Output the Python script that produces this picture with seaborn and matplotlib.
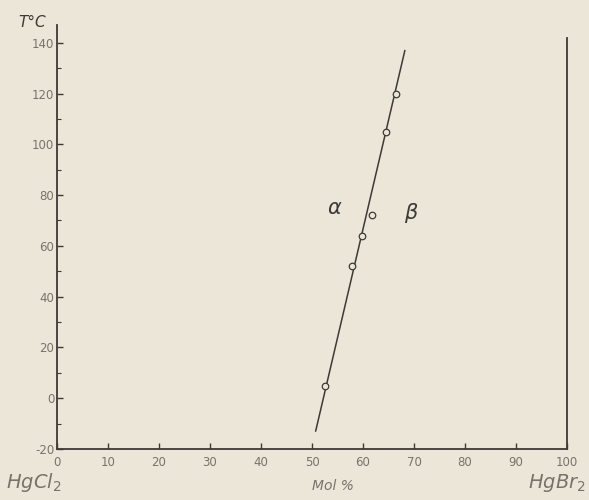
import matplotlib
matplotlib.use("Agg")
import matplotlib.pyplot as plt
import seaborn as sns
import pandas as pd

# measured points (mol % HgBr2, temperature C)
mol_pct = [52.5, 57.8, 59.8, 61.8, 64.5, 66.5]
temp_c = [5, 52, 64, 72, 105, 120]

# boundary line between alpha and beta
line_x = [50.7, 68.2]
line_y = [-13, 137]

x_ticks = [0, 10, 20, 30, 40, 50, 60, 70, 80, 90, 100]
y_ticks = [-20, 0, 20, 40, 60, 80, 100, 120, 140]

bg = "#ebe6d7"
ink = "#3c3a36"
grey = "#77736c"

sns.set_style("ticks")
plt.rcParams["font.family"] = ["DejaVu Sans"]
plt.rcParams["axes.unicode_minus"] = False

fig = plt.figure(figsize=(5.89, 5.0), dpi=100, facecolor=bg)
ax = fig.add_axes([0.0968, 0.102, 0.866, 0.848], facecolor=bg)

pts = pd.DataFrame({"mol": mol_pct, "T": temp_c})
bound = pd.DataFrame({"mol": line_x, "T": line_y})

sns.lineplot(data=bound, x="mol", y="T", ax=ax, color=ink, lw=1.1)
sns.scatterplot(data=pts, x="mol", y="T", ax=ax, marker="o", s=22,
                facecolor=bg, edgecolor=ink, linewidth=0.9, zorder=3)

ax.set_xlim(0, 100)
ax.set_ylim(-20, 147)
ax.set_xticks(x_ticks)
ax.set_yticks(y_ticks)
ax.set_yticks([-10, 10, 30, 50, 70, 90, 110, 130], minor=True)
ax.tick_params(direction="in", length=4, width=1, colors=ink, labelcolor=grey,
               labelsize=8.5, pad=2)
ax.tick_params(axis="x", pad=5)
ax.tick_params(which="minor", direction="in", length=3, width=0.8, colors=ink)
ax.set_xlabel("")
ax.set_ylabel("")

for s in ["left", "bottom", "right"]:
    ax.spines[s].set_color(ink)
    ax.spines[s].set_linewidth(1.3)
ax.spines["top"].set_visible(False)
ax.spines["right"].set_bounds(-20, 142)

ax.text(54.5, 75, r"$\alpha$", fontsize=15, color=ink, ha="center", va="center")
ax.text(69.5, 73, r"$\beta$", fontsize=15, color=ink, ha="center", va="center")

fig.text(0.055, 0.955, "T°C", fontsize=11, style="italic", color=ink, ha="center", va="center")
fig.text(0.01, 0.035, r"HgCl$_2$", fontsize=14, style="italic", color=grey, ha="left", va="center")
fig.text(0.565, 0.028, "Mol %", fontsize=10, style="italic", color=grey, ha="center", va="center")
fig.text(0.995, 0.035, r"HgBr$_2$", fontsize=14, style="italic", color=grey, ha="right", va="center")

fig.savefig("out.png", dpi=100, facecolor=bg)
